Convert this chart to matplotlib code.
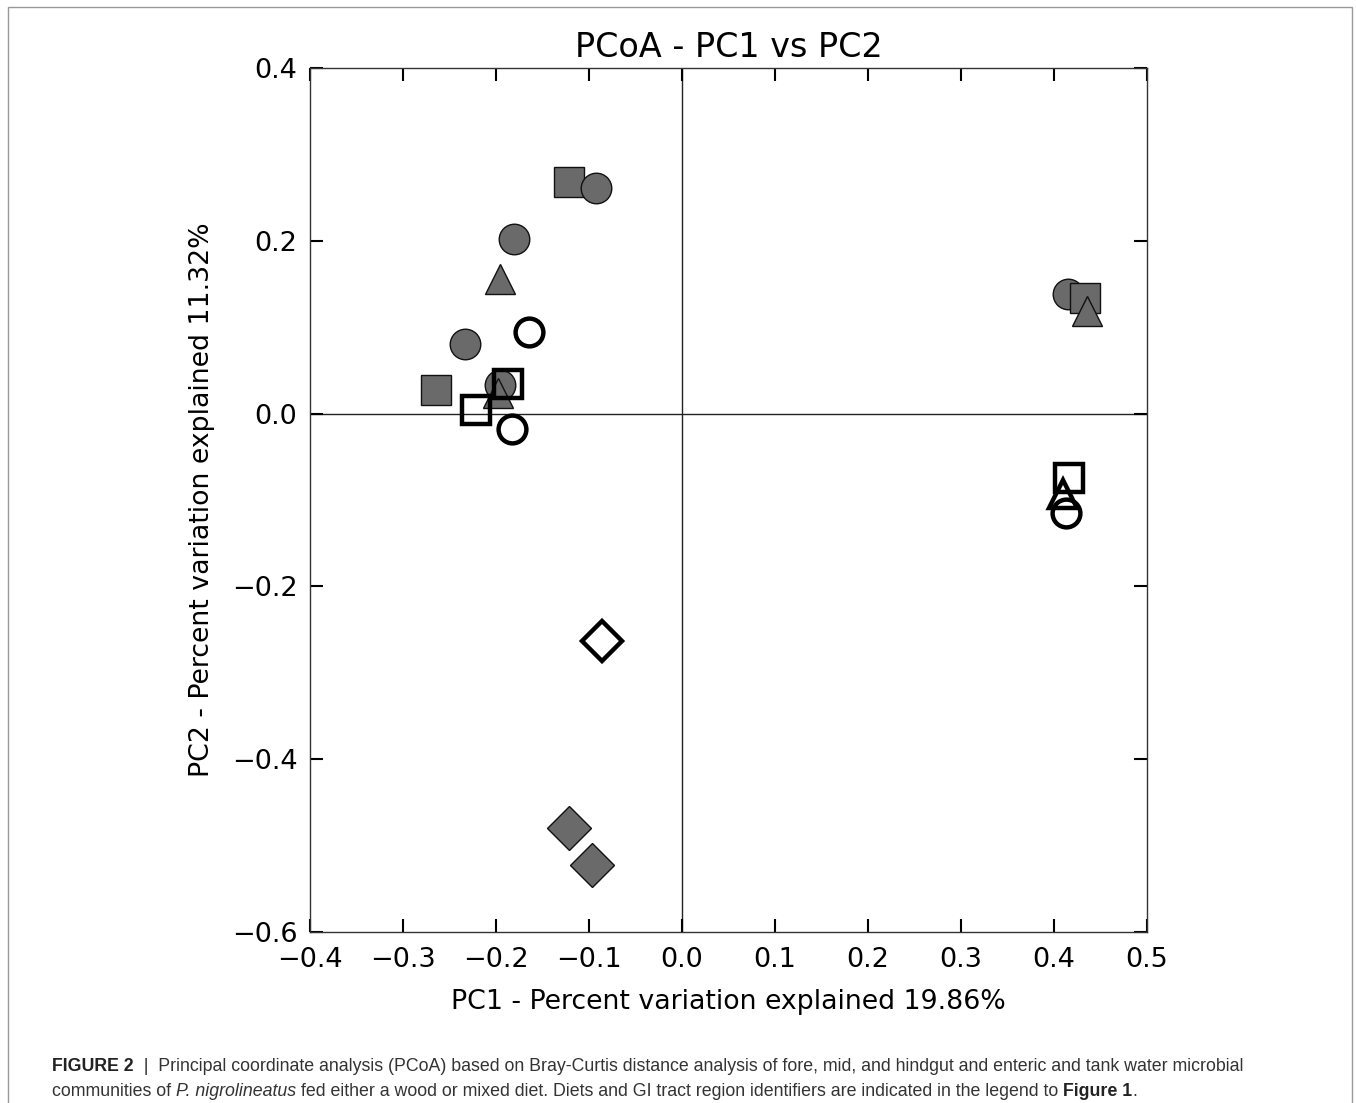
import matplotlib
matplotlib.use("Agg")
import matplotlib.pyplot as plt
from matplotlib.patches import Rectangle

# ---- data ----
shapes = ["s", "o", "o", "^", "o", "s", "o", "^", "o", "s", "^", "D", "D",
          "o", "s", "s", "o", "D", "s", "^", "o"]
filled = [True] * 13 + [False] * 8
pc1 = [-0.121, -0.093, -0.181, -0.196, -0.233, -0.265, -0.196, -0.198, 0.415, 0.433, 0.435, -0.122, -0.097,
       -0.165, -0.187, -0.221, -0.183, -0.086, 0.416, 0.410, 0.413]
pc2 = [0.268, 0.261, 0.202, 0.156, 0.080, 0.027, 0.033, 0.024, 0.139, 0.134, 0.119, -0.480, -0.522,
       0.094, 0.034, 0.004, -0.018, -0.263, -0.075, -0.093, -0.115]
xticks = [-0.4, -0.3, -0.2, -0.1, 0.0, 0.1, 0.2, 0.3, 0.4, 0.5]
yticks = [-0.6, -0.4, -0.2, 0.0, 0.2, 0.4]
title = "PCoA - PC1 vs PC2"
xlabel = "PC1 - Percent variation explained 19.86%"
ylabel = "PC2 - Percent variation explained 11.32%"

W, H = 1356, 1103
fig = plt.figure(figsize=(W / 100, H / 100), dpi=100)
ax = fig.add_axes([310 / W, 1 - 932 / H, (1147 - 310) / W, (932 - 68) / H])

ax.axhline(0, color="#222222", lw=1.0, zorder=1)
ax.axvline(0, color="#222222", lw=1.0, zorder=1)

ms = 22
for s, f, x, y in zip(shapes, filled, pc1, pc2):
    if f:
        ax.plot([x], [y], marker=s, ms=ms, mfc="#6a6a6a", mec="#111111", mew=1.0,
                ls="none", zorder=3)
for s, f, x, y in zip(shapes, filled, pc1, pc2):
    if not f:
        ax.plot([x], [y], marker=s, ms=ms - 2, mfc="none", mec="black", mew=3.2,
                ls="none", zorder=4)

ax.set_xlim(-0.4, 0.5)
ax.set_ylim(-0.6, 0.4)
ax.set_xticks(xticks)
ax.set_yticks(yticks)
ax.set_xticklabels([f"{v:.1f}".replace("-", "\u2212") for v in xticks])
ax.set_yticklabels([f"{v:.1f}".replace("-", "\u2212") for v in yticks])
ax.tick_params(direction="in", length=9.5, width=1.5, top=True, right=True,
               labelsize=19.5, pad=9, color="black")
ax.tick_params(axis="x", pad=11)
for sp in ax.spines.values():
    sp.set_color("#333333")
    sp.set_linewidth(1.0)

ax.set_title(title, fontsize=24, pad=8)
ax.set_xlabel(xlabel, fontsize=19.3, labelpad=11)
ax.set_ylabel(ylabel, fontsize=19.3, labelpad=12)

# outer border
fig.add_artist(Rectangle((8 / W, -0.01), (1352 - 8) / W, 1 - 7 / H + 0.01,
                         transform=fig.transFigure, fill=False, ec="#999999", lw=1.0))

# caption
fig.canvas.draw()
renderer = fig.canvas.get_renderer()
cap_font = "Liberation Sans"
cap_color = "#333333"
cap_size = 12.75

def put_line(pieces, x_px, y_px):
    x = x_px
    for txt, weight, style in pieces:
        t = fig.text(x / W, 1 - y_px / H, txt, fontsize=cap_size, family=cap_font,
                     weight=weight, style=style, color=cap_color if weight == "normal" else "#222222",
                     va="baseline", ha="left")
        bb = t.get_window_extent(renderer)
        x = bb.x1

line1 = [("FIGURE 2", "bold", "normal"),
         ("  |  Principal coordinate analysis (PCoA) based on Bray-Curtis distance analysis of fore, mid, and hindgut and enteric and tank water microbial", "normal", "normal")]
line2 = [("communities of ", "normal", "normal"),
         ("P. nigrolineatus", "normal", "italic"),
         (" fed either a wood or mixed diet. Diets and GI tract region identifiers are indicated in the legend to ", "normal", "normal"),
         ("Figure 1", "bold", "normal"),
         (".", "normal", "normal")]
put_line(line1, 52, 1071)
put_line(line2, 52, 1096)

fig.savefig("out.png", dpi=100)
